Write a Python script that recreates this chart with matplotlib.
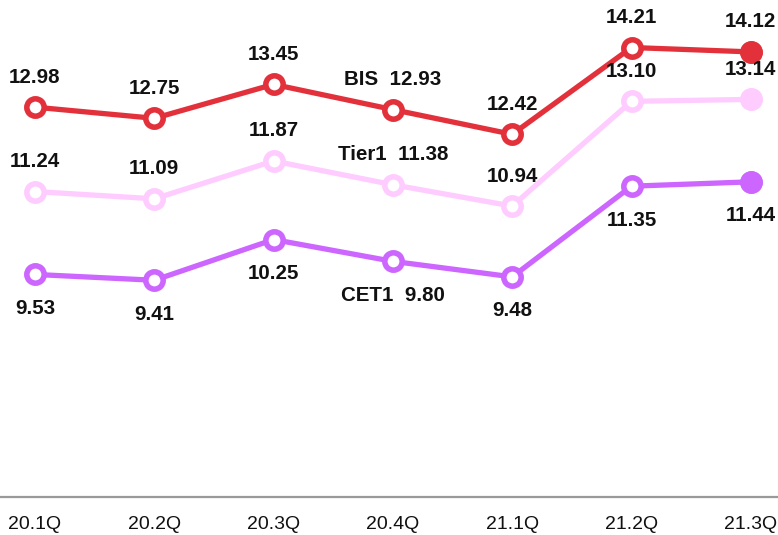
import matplotlib.pyplot as plt

plt.rcParams['font.family'] = ['Liberation Sans', 'DejaVu Sans']

quarters = ['20.1Q', '20.2Q', '20.3Q', '20.4Q', '21.1Q', '21.2Q', '21.3Q']
bis = [12.98, 12.75, 13.45, 12.93, 12.42, 14.21, 14.12]
tier1 = [11.24, 11.09, 11.87, 11.38, 10.94, 13.10, 13.14]
cet1 = [9.53, 9.41, 10.25, 9.80, 9.48, 11.35, 11.44]

series = [
    ('BIS', bis, '#E3313B', 30),
    ('Tier1', tier1, '#FFCCFF', 30),
    ('CET1', cet1, '#CC66FF', -34),
]
name_at = 3  # series name is written next to the 20.4Q value

fig = plt.figure(figsize=(7.78, 5.35), dpi=100)
ax = fig.add_axes([0, 38 / 535, 1, 497 / 535])
x = list(range(len(quarters)))

for z, (name, vals, color, off) in zip([3, 2, 1], series):
    ax.plot(x, vals, color=color, lw=3.8, marker='o', ms=12.5, mew=4,
            mec=color, mfc='white', zorder=z, solid_capstyle='round')
    # last quarter gets a solid marker
    ax.plot(x[-1], vals[-1], marker='o', ms=16, color=color, mew=0, zorder=z + 0.5)
    for i, v in enumerate(vals):
        txt = f'{v:.2f}'
        if i == name_at:
            txt = f'{name}  {txt}'
        ax.annotate(txt, (i, v), xytext=(0, off), textcoords='offset pixels',
                    ha='center', va='center', fontsize=14.8, fontweight='bold',
                    color='#111111', zorder=5)

ax.set_xlim(-35 / 119.3, (778 - 35) / 119.3)
ax.set_ylim(4.94, 15.19)
ax.set_xticks(x)
ax.set_xticklabels(quarters, fontsize=14, color='#111111')
ax.tick_params(axis='x', length=0, pad=14)
ax.set_yticks([])
for side in ['top', 'left', 'right']:
    ax.spines[side].set_visible(False)
ax.spines['bottom'].set_color('#999999')
ax.spines['bottom'].set_linewidth(1.6)

fig.savefig('out.png', dpi=100)
